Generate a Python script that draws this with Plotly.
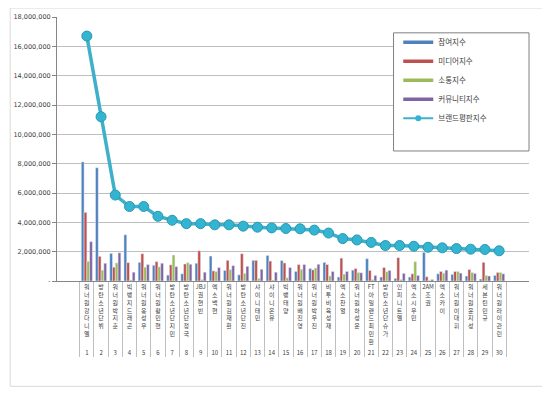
import plotly.graph_objects as go

ranks = [str(i) for i in range(1, 31)]
names = ["워너원강다니엘", "방탄소년단뷔", "워너원박지훈", "빅뱅지드래곤", "워너원옹성우",
         "워너원황민현", "방탄소년단지민", "방탄소년단정국", "JBJ권현빈", "엑소백현",
         "워너원김재환", "방탄소년단진", "샤이니태민", "샤이니온유", "빅뱅태양",
         "워너원배진영", "워너원박우진", "비투비육성재", "엑소찬열", "워너원하성운",
         "FT아일랜드 최민환", "방탄소년단슈가", "인피니트엘", "엑소시우민", "2AM조권",
         "엑소카이", "워너원이대휘", "워너원윤지성", "세븐틴민규", "워너원라이관린"]

participation = [8120000, 7720000, 1880000, 3150000, 1270000, 1070000, 400000, 490000, 1210000, 1700000,
                 720000, 420000, 1410000, 1740000, 1390000, 650000, 850000, 1270000, 270000, 740000,
                 1520000, 270000, 180000, 270000, 1950000, 490000, 450000, 340000, 130000, 380000]
media = [4680000, 1680000, 940000, 1250000, 1860000, 1320000, 1100000, 1160000, 2060000, 690000,
         1410000, 1860000, 1410000, 1360000, 1230000, 1120000, 760000, 1120000, 1560000, 850000,
         720000, 920000, 1590000, 490000, 290000, 650000, 650000, 780000, 1270000, 580000]
communication = [1340000, 740000, 1230000, 70000, 940000, 960000, 1770000, 1250000, 100000, 650000,
                 780000, 520000, 180000, 70000, 220000, 800000, 890000, 340000, 470000, 580000,
                 100000, 630000, 100000, 1320000, 40000, 540000, 650000, 580000, 380000, 580000]
community = [2680000, 1210000, 1920000, 600000, 1120000, 1210000, 980000, 1140000, 600000, 920000,
             1050000, 1000000, 800000, 600000, 920000, 1120000, 1140000, 650000, 650000, 560000,
             380000, 720000, 520000, 380000, 100000, 740000, 540000, 520000, 340000, 490000]
brand = [16700000, 11200000, 5860000, 5080000, 5080000, 4410000, 4140000, 3910000, 3910000, 3830000,
         3830000, 3740000, 3670000, 3620000, 3580000, 3560000, 3470000, 3270000, 2890000, 2800000,
         2630000, 2420000, 2420000, 2370000, 2300000, 2260000, 2210000, 2170000, 2150000, 2060000]

y_ticks = list(range(0, 18000001, 2000000))
y_ticktext = ["-"] + [f"{v:,}" for v in y_ticks[1:]]


def vert(s):
    # stack Hangul characters vertically; keep runs of Latin letters/digits on one line
    parts, buf = [], ""
    for ch in s:
        if ch == " ":
            continue
        if ch.isascii() and ch.isalnum():
            buf += ch
        else:
            if buf:
                parts.append(buf)
                buf = ""
            parts.append(ch)
    if buf:
        parts.append(buf)
    return "<br>".join(parts)


x = [ranks, [vert(n) for n in names]]

font_kr = "Noto Sans CJK KR"
fig = go.Figure()
series = [("참여지수", participation, "#4F81BD"),
          ("미디어지수", media, "#C0504D"),
          ("소통지수", communication, "#9BBB59"),
          ("커뮤니티지수", community, "#8064A2")]
for nm, vals, col in series:
    fig.add_trace(go.Bar(x=x, y=vals, name=nm, marker_color=col, showlegend=False))
fig.add_trace(go.Scatter(x=x, y=brand, name="브랜드평판지수", mode="lines+markers",
                         line=dict(color="#3FB0C9", width=3.5),
                         marker=dict(size=10, color="#33B5D2", line=dict(color="#2A98B2", width=1)),
                         showlegend=False))

# legend entries (bar series shown as short thick bars like the original), on a hidden axis
for i, (nm, vals, col) in enumerate(series):
    fig.add_trace(go.Scatter(x=[None], y=[None], name=nm, mode="lines",
                             line=dict(color=col, width=3.5), legendrank=i + 1,
                             xaxis="x2", yaxis="y2", hoverinfo="skip"))
fig.add_trace(go.Scatter(x=[None], y=[None], name="브랜드평판지수", mode="lines+markers",
                         line=dict(color="#3FB0C9", width=2),
                         marker=dict(size=6, color="#33B5D2"), legendrank=5,
                         xaxis="x2", yaxis="y2", hoverinfo="skip"))

fig.update_layout(
    width=550, height=397,
    margin=dict(l=47, r=29, t=5, b=124),
    paper_bgcolor="white", plot_bgcolor="white",
    barmode="group", bargap=0.22, bargroupgap=0,
    font=dict(family=font_kr, size=7, color="#404040"),
    showlegend=True,
    legend=dict(x=0.723, y=0.959, xanchor="left", yanchor="top",
                borderwidth=0, bgcolor="rgba(0,0,0,0)",
                font=dict(size=7.5, family=font_kr, color="#404040"),
                tracegroupgap=5, itemwidth=30),
    xaxis=dict(type="multicategory", showline=True, linecolor="#868686",
               showdividers=True, dividercolor="#BFBFBF", dividerwidth=1,
               tickangle=0,
               tickfont=dict(size=6, family=font_kr, color="#404040")),
    yaxis=dict(range=[0, 18000000], tickvals=y_ticks, ticktext=y_ticktext,
               showgrid=True, gridcolor="#BFBFBF", gridwidth=1,
               showline=True, linecolor="#868686", ticks="outside", ticklen=4,
               tickcolor="#868686", zeroline=False,
               tickfont=dict(size=6.5, family="DejaVu Sans", color="#404040")),
    xaxis2=dict(visible=False, overlaying="x", range=[0, 1]),
    yaxis2=dict(visible=False, overlaying="y", range=[0, 1]),
    shapes=[
        dict(type="rect", xref="paper", yref="paper",
             x0=-0.0992, x1=1.036, y0=-0.399, y1=1.034,
             line=dict(color="#D9D9D9", width=1), layer="below"),
        dict(type="rect", xref="paper", yref="paper",
             x0=0.713, x1=1.0, y0=0.4925, y1=0.940,
             line=dict(color="#808080", width=1), fillcolor="white", layer="above"),
    ],
)

fig.write_html("out.html")
